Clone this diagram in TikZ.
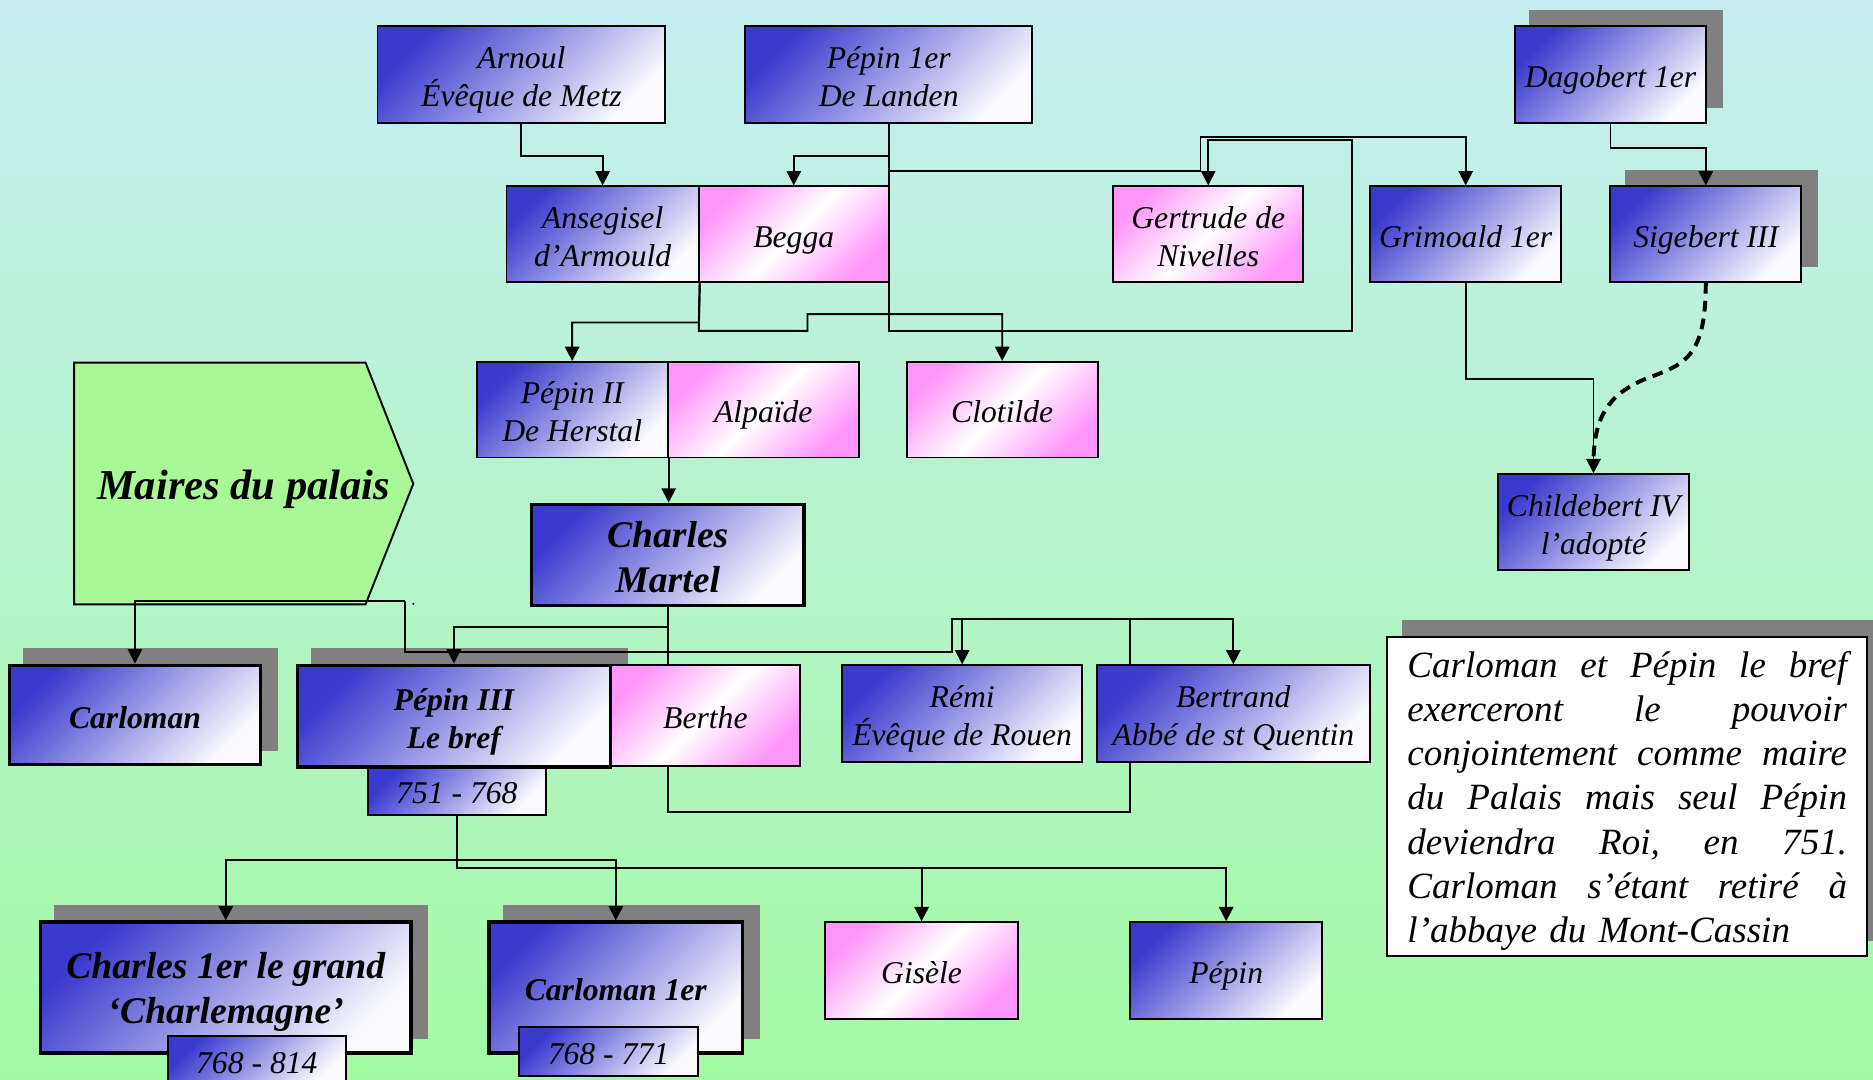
\documentclass[tikz,border=0pt]{standalone}
\usepackage{fontspec}
\setmainfont{Liberation Serif}
\usetikzlibrary{arrows.meta,calc}
\definecolor{bgtop}{RGB}{198,238,242}
\definecolor{bgbot}{RGB}{164,250,164}
\definecolor{bdark}{RGB}{58,58,206}
\definecolor{blight}{RGB}{250,250,255}
\definecolor{pinkd}{RGB}{255,150,250}
\definecolor{greenf}{RGB}{168,248,152}
\definecolor{shadowc}{RGB}{128,128,128}
\pgfdeclarelayer{bgl}
\pgfdeclarelayer{shad}
\pgfdeclarelayer{lines}
\pgfsetlayers{bgl,shad,lines,main}
\newcommand\fstrut[1]{\vrule width 0pt height #1\relax}
\newcommand\lstrut[1]{\vrule width 0pt depth #1\relax}
\newcommand\ft{\fstrut{30pt}}
\newcommand\fb{\fstrut{34pt}}
\newcommand\jline[1]{\leavevmode\hbox to 368pt{#1}}
\tikzset{
  person/.style={rectangle, draw=black, line width=1.6pt, inner sep=0pt, align=center,
    font=\fontsize{26.5}{32}\selectfont\itshape,
    execute at begin node={\fstrut{30pt}}, execute at end node={\lstrut{8pt}}},
  datebox/.style={person, execute at begin node={}, execute at end node={}},
  bluebox/.style={person, top color=bdark, bottom color=blight, shading angle=45},
  pinkbox/.style={person, top color=pinkd, bottom color=pinkd, middle color=white, shading angle=45},
  blueshade/.style={top color=bdark, bottom color=blight, shading angle=45},
  strong/.style={line width=3pt, font=\fontsize{26.5}{32}\selectfont\bfseries\itshape},
  big/.style={font=\fontsize{31.5}{37.5}\selectfont\bfseries\itshape,
    execute at begin node={\fstrut{33pt}}, execute at end node={\lstrut{11pt}}},
  conn/.style={draw=black, line width=1.6pt},
  arr/.style={conn, -{Triangle[length=12pt,width=12pt]}},
  sz/.style 2 args={minimum width=#1pt, minimum height=#2pt},
}
\begin{document}
\begin{tikzpicture}[x=1pt,y=-1pt]
\useasboundingbox (0,0) rectangle (1568,903.3);
\begin{pgfonlayer}{bgl}
\shade[top color=bgtop, bottom color=bgbot] (0,0) rectangle (1568,903.3);
\draw[fill=greenf, line width=1.6pt] (62,303.5) -- (306,303.5) -- (346,405) -- (306,506) -- (62,506) -- cycle;
\end{pgfonlayer}
\node[font=\fontsize{35.6}{40}\selectfont\bfseries\itshape] (maires) at (204,410) {Maires du palais};
\fill (346,505.5) circle (0.9);

% row 1
\node[bluebox, sz={241}{81}] (arnoul) at (436.5,62.5) {\ft Arnoul\\Évêque de Metz};
\node[bluebox, sz={240}{81}] (pepin1) at (744,62.5) {\ft Pépin 1er\\De Landen};
\node[bluebox, sz={160.5}{81}] (dagobert) at (1348.25,62.5) {Dagobert 1er};
% row 2
\node[bluebox, sz={161}{80}] (ansegisel) at (504.5,196) {\ft Ansegisel\\d’Armould};
\node[pinkbox, sz={159}{80}] (begga) at (664.5,196) {Begga};
\node[pinkbox, sz={159}{80}] (gertrude) at (1011.5,196) {\ft Gertrude de\\Nivelles};
\node[bluebox, sz={160}{80}] (grimoald) at (1227,196) {Grimoald 1er};
\node[bluebox, sz={160}{80}] (sigebert) at (1428,196) {Sigebert III};
% row 3
\node[bluebox, sz={160}{80}] (pepin2) at (479,343) {\ft Pépin II\\De Herstal};
\node[pinkbox, sz={160}{80}] (alpaide) at (639,343) {Alpaïde};
\node[pinkbox, sz={160}{80}] (clotilde) at (839,343) {Clotilde};
\node[bluebox, sz={160}{80}] (childebert) at (1334,437) {\ft Childebert IV\\l’adopté};
% Charles Martel
\node[bluebox, strong, big, sz={228}{81}] (martel) at (559,464.5) {\fstrut{36pt}Charles\\Martel};
% row 4
\node[bluebox, strong, sz={210}{83}] (carloman) at (113,598.5) {Carloman};
\node[pinkbox, sz={159}{84}] (berthe) at (590.5,599) {Berthe};
\node[datebox, blueshade, sz={149}{41}] (date751) at (382.5,661.5) {751 - 768};
\node[bluebox, strong, sz={262}{85}] (pepin3) at (380,599.5) {\ft Pépin III\\Le bref};
\node[bluebox, sz={201}{81}] (remi) at (805.5,597.5) {\ft Rémi\\Évêque de Rouen};
\node[bluebox, sz={229}{81}] (bertrand) at (1032.5,597.5) {\ft Bertrand\\Abbé de st Quentin};
% row 5
\node[bluebox, strong, big, sz={310}{109.5}] (charles1) at (189,826.75) {\fb Charles 1er le grand\\‘Charlemagne’};
\node[datebox, blueshade, sz={149}{41}] (date768a) at (215,887.5) {768 - 814};
\node[bluebox, strong, sz={212}{109.5}] (carloman1) at (515.5,826.75) {Carloman 1er};
\node[datebox, blueshade, sz={149.6}{41}] (date768b) at (509.4,880.5) {768 - 771};
\node[pinkbox, sz={161}{81}] (gisele) at (771.5,812.5) {Gisèle};
\node[bluebox, sz={161}{81}] (pepin) at (1026.5,812.5) {Pépin};
% text box
\node[rectangle, draw=black, line width=1.6pt, fill=white, minimum width=401.5pt, minimum height=267pt,
  inner sep=0pt, text width=368pt, align=left, font=\fontsize{31}{37}\selectfont\itshape] (textbox) at (1362.25,666.5)
  {\jline{\fstrut{31pt}Carloman\hfill et\hfill Pépin\hfill le\hfill bref}\\
   \jline{exerceront\hfill le\hfill pouvoir}\\
   \jline{conjointement\hfill comme\hfill maire}\\
   \jline{du\hfill Palais\hfill mais\hfill seul\hfill Pépin}\\
   \jline{deviendra\hfill Roi,\hfill en\hfill 751.}\\
   \jline{Carloman\hfill s’étant\hfill retiré\hfill à}\\
   \jline{l’abbaye du Mont-Cassin\lstrut{8pt}\hfill}};

% shadows
\begin{pgfonlayer}{shad}
\foreach \n in {dagobert,sigebert,carloman,pepin3,charles1,carloman1,textbox}
  \fill[shadowc] ([shift={(13,-13)}]\n.south west) rectangle ([shift={(13,-13)}]\n.north east);
\end{pgfonlayer}

% connectors
\begin{pgfonlayer}{lines}
\draw[arr] (arnoul.south) -- ++(0,27) -| (ansegisel.north);
\draw[arr] (pepin1.south) -- ++(0,27) -| (begga.north);
\draw[arr] (pepin1.south) -- (744,143) -- (1005,143) -- (1005,115) -| (grimoald.north);
\draw[arr] (pepin1.south) -- (744,277) -- (1132,277) -- (1132,117) -| (gertrude.north);
\draw[arr] (dagobert.south) -- ++(0,20) -| (sigebert.north);
\draw[arr] (grimoald.south) -- (1227,317) -| (childebert.north);
\draw[line width=3.3pt, dash pattern=on 9pt off 6pt] (sigebert.south) .. controls (1428,300) and (1410,305) .. (1378,317) .. controls (1346,330) and (1334,350) .. ([yshift=8pt]childebert.north);
\coordinate (cpl1) at (ansegisel.south east);
\draw[arr] (cpl1) -- (585,270) -| (pepin2.north);
\draw[arr] (cpl1) -- (585,277) -- (676,277) -- (676,263) -| (clotilde.north);
\draw[arr] (pepin2.south east) -- (pepin2.south east |- martel.north);
\draw[arr] (martel.south) -- (559,525) -| (pepin3.north);
\draw[conn] (martel.south) -- (martel.south |- berthe.north);
\coordinate (mj) at (339,503);
\draw[arr] (mj) -| (carloman.north);
\draw[arr] (mj) -- (339,546) -- (797,546) -- (797,518) -| (bertrand.north);
\draw[arr] (martel.south |- berthe.south) -- (559,680) -- (946,680) -- (946,518) -| (remi.north);
\coordinate (k1) at (382.5,720);
\coordinate (k2) at (771.5,727);
\draw[arr] (date751.south) -- (k1) -| (charles1.north);
\draw[arr] (k1) -| (carloman1.north);
\draw[arr] (date751.south) -- (382.5,727) -| (pepin.north);
\draw[arr] (k2) -- (gisele.north);
\end{pgfonlayer}
\end{tikzpicture}
\end{document}
